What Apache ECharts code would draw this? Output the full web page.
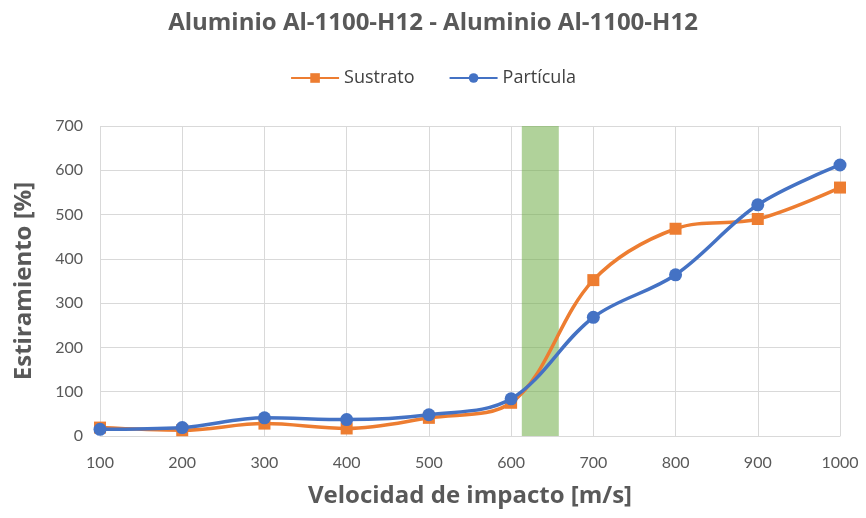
<!DOCTYPE html>
<html>
<head>
<meta charset="utf-8">
<script src="https://cdn.jsdelivr.net/npm/echarts@6/dist/echarts.min.js"></script>
<style>html,body{margin:0;padding:0;background:#fff}#c{width:866px;height:518px}</style>
</head>
<body>
<div id="c"></div>
<script>
const velocities = [100, 200, 300, 400, 500, 600, 700, 800, 900, 1000];
const sustrato = [19, 13, 28, 17, 41, 75, 352, 468, 490, 561];
const particula = [15, 19, 41, 37, 48, 84, 268, 364, 522, 612];
const bandRange = [613, 658];
const titleText = 'Aluminio Al-1100-H12 - Aluminio Al-1100-H12';
const xName = 'Velocidad de impacto [m/s]';
const yName = 'Estiramiento [%]';

const font = '"Open Sans", Lato, sans-serif';
const tickFont = 'Lato, "Open Sans", sans-serif';
const gray = '#595959';
const chart = echarts.init(document.getElementById('c'), null, {renderer: 'canvas'});
chart.setOption({
  animation: false,
  backgroundColor: '#fff',
  title: {
    text: titleText, left: 'center', top: 6,
    textStyle: {fontFamily: font, fontSize: 24, fontWeight: 'bold', color: gray}
  },
  legend: {
    top: 64, left: 'center', itemWidth: 48, itemHeight: 12, itemGap: 34,
    textStyle: {fontFamily: font, fontSize: 18, color: '#404040'},
    data: ['Sustrato', 'Partícula']
  },
  grid: {left: 100, right: 26, top: 126, bottom: 82},
  xAxis: {
    type: 'value', min: 100, max: 1000, interval: 100,
    name: xName, nameLocation: 'middle', nameGap: 48,
    nameTextStyle: {fontFamily: font, fontSize: 24, fontWeight: 'bold', color: gray},
    axisLine: {show: true, lineStyle: {color: '#D9D9D9'}},
    axisTick: {show: false},
    axisLabel: {fontFamily: tickFont, fontSize: 16, color: gray, margin: 19,
      formatter: v => String(v)},
    splitLine: {show: true, lineStyle: {color: '#D9D9D9'}}
  },
  yAxis: {
    type: 'value', min: 0, max: 700, interval: 100,
    name: yName, nameLocation: 'middle', nameGap: 64,
    nameTextStyle: {fontFamily: font, fontSize: 24, fontWeight: 'bold', color: gray},
    axisLine: {show: false}, axisTick: {show: false},
    axisLabel: {fontFamily: tickFont, fontSize: 16, color: gray, margin: 17},
    splitLine: {show: true, lineStyle: {color: '#D9D9D9'}}
  },
  series: [
    {
      name: 'Sustrato', type: 'line', smooth: 0.35,
      data: velocities.map((v, i) => [v, sustrato[i]]),
      symbol: 'rect', symbolSize: 12,
      itemStyle: {color: '#ED7D31'},
      lineStyle: {color: '#ED7D31', width: 3.5}, z: 2
    },
    {
      name: 'Partícula', type: 'line', smooth: 0.35,
      data: velocities.map((v, i) => [v, particula[i]]),
      symbol: 'circle', symbolSize: 13,
      itemStyle: {color: '#4472C4'},
      lineStyle: {color: '#4472C4', width: 3.5}, z: 3
    },
    {
      name: 'band', type: 'line', data: [], z: 5,
      markArea: {
        silent: true,
        itemStyle: {color: 'rgba(112,173,71,0.55)'},
        data: [[{xAxis: bandRange[0]}, {xAxis: bandRange[1]}]]
      }
    }
  ]
});
</script>
</body>
</html>
